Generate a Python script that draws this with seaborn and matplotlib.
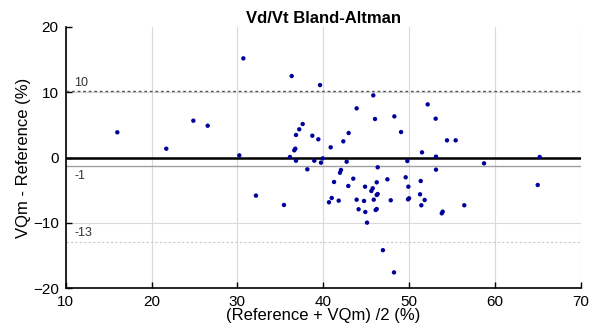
import pandas as pd
import matplotlib
matplotlib.use("Agg")
import matplotlib.pyplot as plt
import seaborn as sns

# Mean of the two methods (x) and their difference (y)
mean_vals = [16.02, 21.72, 24.87, 26.54, 30.22, 30.69, 32.16, 35.42, 36.12, 36.32,
             36.62, 36.74, 36.82, 36.82, 37.20, 37.60, 38.14, 38.72, 38.95, 39.42,
             39.62, 39.73, 39.93, 40.66, 40.86, 40.98, 41.25, 41.79, 41.94, 42.06,
             42.33, 42.72, 42.91, 42.95, 43.49, 43.88, 43.88, 44.11, 44.74, 44.86,
             44.89, 45.09, 45.59, 45.75, 45.82, 45.87, 46.02, 46.10, 46.22, 46.22,
             46.22, 46.33, 46.33, 46.94, 47.46, 47.85, 48.23, 48.27, 49.05, 49.59,
             49.78, 49.86, 49.90, 49.98, 51.26, 51.34, 51.41, 51.49, 51.80, 52.15,
             53.08, 53.12, 53.12, 53.79, 53.90, 54.40, 55.41, 56.41, 58.71, 64.96,
             65.19]
diff_vals = [3.86, 1.35, 5.64, 4.87, 0.33, 15.19, -5.84, -7.27, 0.08, 12.48,
             1.10, 1.35, 3.45, -0.49, 4.32, 5.13, -1.81, 3.34, -0.49, 2.79,
             11.10, -0.79, -0.13, -6.86, 1.56, -6.20, -3.75, -6.61, -2.33, -1.91,
             2.48, -0.64, -4.36, 3.75, -3.24, 7.53, -6.46, -7.93, -6.66, -4.47,
             -8.35, -9.98, -5.13, -4.72, 9.52, -6.46, 5.90, -8.04, -3.80, -5.74,
             -7.89, -1.50, -5.59, -14.2, -3.34, -6.55, -17.6, 6.30, 3.90, -3.03,
             -0.54, -6.40, -4.47, -6.25, -5.64, -3.60, -7.32, 0.79, -6.51, 8.14,
             5.95, 0.13, -1.86, -8.55, -8.30, 2.63, 2.63, -7.32, -0.89, -4.21,
             0.08]

bias = -1.3
upper_loa = 10.2
lower_loa = -12.9
line_labels = ["10", "-1", "-13"]

df = pd.DataFrame({"mean": mean_vals, "diff": diff_vals})

sns.set_style("white")
plt.rcParams["font.family"] = ["Liberation Sans", "DejaVu Sans"]
plt.rcParams["text.color"] = "black"
plt.rcParams["axes.labelcolor"] = "black"
plt.rcParams["xtick.color"] = "black"
plt.rcParams["ytick.color"] = "black"

fig = plt.figure(figsize=(5.98, 3.33), dpi=100)
ax = fig.add_axes([0.1097, 0.135, 0.8619, 0.784])

# grid first so the reference lines sit on top
ax.set_xlim(10, 70)
ax.set_ylim(-20, 20)
ax.set_xticks(range(10, 71, 10))
ax.set_yticks(range(-20, 21, 10))
ax.grid(True, color="#d9d9d9", linewidth=0.8)
ax.set_axisbelow(True)
ax.yaxis.get_gridlines()[-1].set_visible(False)

ax.axhline(0, color="black", linewidth=1.8, zorder=2)
ax.axhline(bias, color="#a0a0a0", linewidth=1.0, zorder=2)
ax.axhline(upper_loa, color="#555555", linewidth=1.0, linestyle=(0, (2, 2)), zorder=2)
ax.axhline(lower_loa, color="#c8c8c8", linewidth=0.8, linestyle=(0, (2, 2)), zorder=2)

sns.scatterplot(data=df, x="mean", y="diff", ax=ax, color="#00009a",
                s=10, edgecolor="none", zorder=3)

ax.text(11.0, upper_loa + 0.3, line_labels[0], fontsize=9, va="bottom", ha="left",
        color="#333333")
ax.text(11.0, bias - 0.6, line_labels[1], fontsize=9, va="top", ha="left",
        color="#333333")
ax.text(11.0, lower_loa + 0.4, line_labels[2], fontsize=9, va="bottom", ha="left",
        color="#333333")

ax.set_title("Vd/Vt Bland-Altman", fontsize=12, fontweight="bold", pad=3)
ax.set_xlabel("(Reference + VQm) /2 (%)", fontsize=12, labelpad=-1)
ax.set_ylabel("VQm - Reference (%)", fontsize=12, labelpad=1)
ax.tick_params(axis="both", direction="in", length=4, width=1, labelsize=11,
               left=True, bottom=True, color="black", pad=5)

for side in ["top", "right"]:
    ax.spines[side].set_visible(False)
for side in ["left", "bottom"]:
    ax.spines[side].set_color("black")
    ax.spines[side].set_linewidth(1.2)

fig.savefig("out.png", dpi=100)
